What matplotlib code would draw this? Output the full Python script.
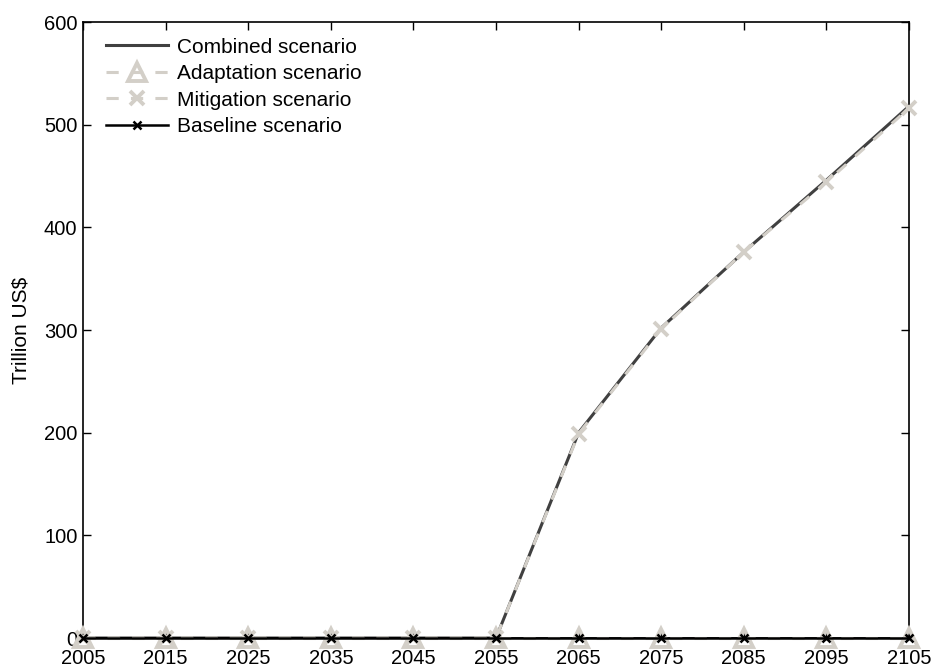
import matplotlib
matplotlib.use("Agg")
import matplotlib.pyplot as plt

plt.rcParams["font.family"] = ["Liberation Sans", "DejaVu Sans"]

years = [2005, 2015, 2025, 2035, 2045, 2055, 2065, 2075, 2085, 2095, 2105]
combined = [0, 0, 0, 0, 0, 0, 200, 302, 376, 446, 518]
adaptation = [0, 0, 0, 0, 0, 0, 0, 0, 0, 0, 0]
mitigation = [0, 0, 0, 0, 0, 0, 199, 301, 376, 444, 516]
baseline = [0, 0, 0, 0, 0, 0, 0, 0, 0, 0, 0]

dark = "#404040"
light = "#d3cfc8"

fig = plt.figure(figsize=(9.34, 6.69), dpi=100)
ax = fig.add_axes([0.0889, 0.0463, 0.8843, 0.9208])

ax.plot(years, combined, "-", color=dark, lw=2.2, label="Combined scenario")
ax.plot(years, adaptation, "--", color=light, lw=2.2, marker="^", ms=13,
        mfc="none", mec=light, mew=2.8, dashes=(4, 4), clip_on=False,
        zorder=3, label="Adaptation scenario")
ax.plot(years, mitigation, "--", color=light, lw=2.2, marker="x", ms=10,
        mew=2.8, dashes=(4, 4), clip_on=False, zorder=3,
        label="Mitigation scenario")
ax.plot(years, baseline, "-", color="black", lw=1.8, marker="x", ms=6,
        mew=1.8, clip_on=False, zorder=4, label="Baseline scenario")

ax.set_xlim(2005, 2105)
ax.set_ylim(0, 600)
ax.set_xticks(years)
ax.set_yticks(range(0, 601, 100))
ax.tick_params(direction="in", length=6, width=1, top=True, right=True,
               labelsize=14.5, pad=4)
ax.tick_params(axis="x", pad=8)
for s in ax.spines.values():
    s.set_linewidth(1.2)

ax.set_ylabel("Trillion US\\$", fontsize=15, labelpad=10)

# legend sits tight in the upper-left corner, no frame
ax.legend(loc="upper left", bbox_to_anchor=(0.0085, 1.0), frameon=False,
          fontsize=15, handlelength=3.0, handletextpad=0.4,
          labelspacing=0.36, borderaxespad=0.3, borderpad=0.45)

fig.savefig("out.png", dpi=100)
